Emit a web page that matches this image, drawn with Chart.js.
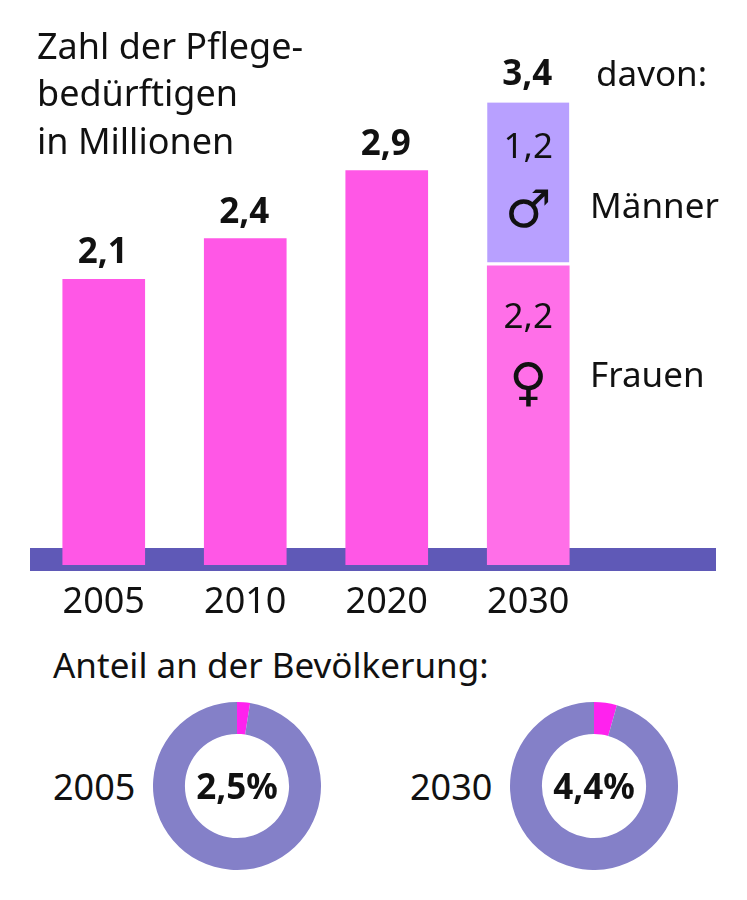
<!DOCTYPE html>
<html lang="de"><head><meta charset="utf-8">
<script src="https://cdn.jsdelivr.net/npm/chart.js@4/dist/chart.umd.min.js"></script>
<style>
html,body{margin:0;padding:0;background:#fff;width:747px;height:900px;overflow:hidden}
body{position:relative;font-family:"Noto Sans",sans-serif;color:#111}
canvas{position:absolute;display:block}
.t{position:absolute;font-size:35px;line-height:44px;white-space:nowrap}
</style></head><body>
<canvas id="bars" width="747" height="640" style="left:0;top:0;width:747px;height:640px"></canvas>
<canvas id="d1" width="168" height="168" style="left:153px;top:702px;width:168px;height:168px"></canvas>
<canvas id="d2" width="168" height="168" style="left:510px;top:702px;width:168px;height:168px"></canvas>
<div class="t" style="left:37px;top:24px;font-size:36px">Zahl der Pflege-</div>
<div class="t" style="left:37px;top:71px;font-size:36px">bedürftigen</div>
<div class="t" style="left:37px;top:119px;font-size:36px">in Millionen</div>
<div class="t" style="left:596px;top:51px">davon:</div>
<div class="t" style="left:590px;top:183px">Männer</div>
<div class="t" style="left:590px;top:352px">Frauen</div>
<div class="t" style="left:53px;top:643px">Anteil an der Bevölkerung:</div>
<div class="t" style="left:53px;top:765px;font-size:36px">2005</div>
<div class="t" style="left:410px;top:765px;font-size:36px">2030</div>
<script>
const categories = ["2005", "2010", "2020", "2030"];
const totals = [2.1, 2.4, 2.9, 3.4];
const overallValues = [2.1, 2.4, 2.9, null];
const womenValues = [null, null, null, 2.2];
const menValues = [null, null, null, 1.2];
const shareYears = ["2005", "2030"];
const shareValues = [2.5, 4.4];

const fmt = v => v.toFixed(1).replace(".", ",");
const FONT = '"Noto Sans", sans-serif';

const barPlugin = {
  id: "barDeco",
  beforeDatasetsDraw(c) {
    const {ctx, scales: {x, y}} = c;
    ctx.save();
    ctx.fillStyle = "#5f59b7";
    ctx.fillRect(30, y.getPixelForValue(0) - 17, 686, 23);
    ctx.restore();
  },
  afterDatasetsDraw(c) {
    const {ctx, scales: {x, y}} = c;
    ctx.save();
    ctx.textAlign = "center";
    ctx.textBaseline = "alphabetic";
    ctx.fillStyle = "#111";
    ctx.font = "bold 35px " + FONT;
    totals.forEach((v, i) => ctx.fillText(fmt(v), x.getPixelForValue(i) - (i === 3 ? 1 : 1), y.getPixelForValue(v) - (i === 3 ? 18 : 16)));
    const cx = x.getPixelForValue(3);
    ctx.font = "35px " + FONT;
    ctx.fillText(fmt(menValues[3]), cx, 158);
    ctx.fillText(fmt(womenValues[3]), cx, 328);
    ctx.font = '52px "DejaVu Sans"';
    ctx.fillText("\u2642", cx, 227);
    ctx.fillText("\u2640", cx, 400);
    ctx.restore();
  }
};

new Chart(document.getElementById("bars"), {
  type: "bar",
  data: {
    labels: categories,
    datasets: [
      {label: "Gesamt", data: overallValues, backgroundColor: "#ff57e6"},
      {label: "Frauen", data: womenValues, backgroundColor: "#ff6fe8"},
      {label: "Männer", data: menValues, backgroundColor: "#b8a0ff", borderColor: "#fff", borderWidth: {bottom: 4}, borderSkipped: false}
    ]
  },
  options: {
    responsive: false, animation: false, events: [],
    layout: {padding: {left: 33, right: 148, top: 21, bottom: 0}},
    datasets: {bar: {barThickness: 82}},
    plugins: {legend: {display: false}, tooltip: {enabled: false}},
    scales: {
      x: {stacked: true, grid: {display: false}, border: {display: false},
          afterFit(a) { a.height = 75; },
          ticks: {color: "#111", font: {family: FONT, size: 36}, padding: 8, maxRotation: 0}},
      y: {stacked: true, display: false, min: 0, max: 4}
    }
  },
  plugins: [barPlugin]
});

const centerPlugin = {
  id: "centerText",
  afterDraw(c) {
    const {ctx, chartArea: a} = c;
    ctx.save();
    ctx.textAlign = "center";
    ctx.textBaseline = "middle";
    ctx.fillStyle = "#111";
    ctx.font = "bold 35px " + FONT;
    ctx.fillText(fmt(c.data.datasets[0].data[0]) + "%", (a.left + a.right) / 2, (a.top + a.bottom) / 2 + 3);
    ctx.restore();
  }
};

["d1", "d2"].forEach((id, i) => new Chart(document.getElementById(id), {
  type: "doughnut",
  data: {
    labels: ["Pflegebedürftige " + shareYears[i], "Übrige Bevölkerung"],
    datasets: [{data: [shareValues[i], 100 - shareValues[i]], backgroundColor: ["#ff22ee", "#8480c8"], borderWidth: 0}]
  },
  options: {
    responsive: false, animation: false, events: [], cutout: "62%",
    plugins: {legend: {display: false}, tooltip: {enabled: false}}
  },
  plugins: [centerPlugin]
}));
</script>
</body></html>
